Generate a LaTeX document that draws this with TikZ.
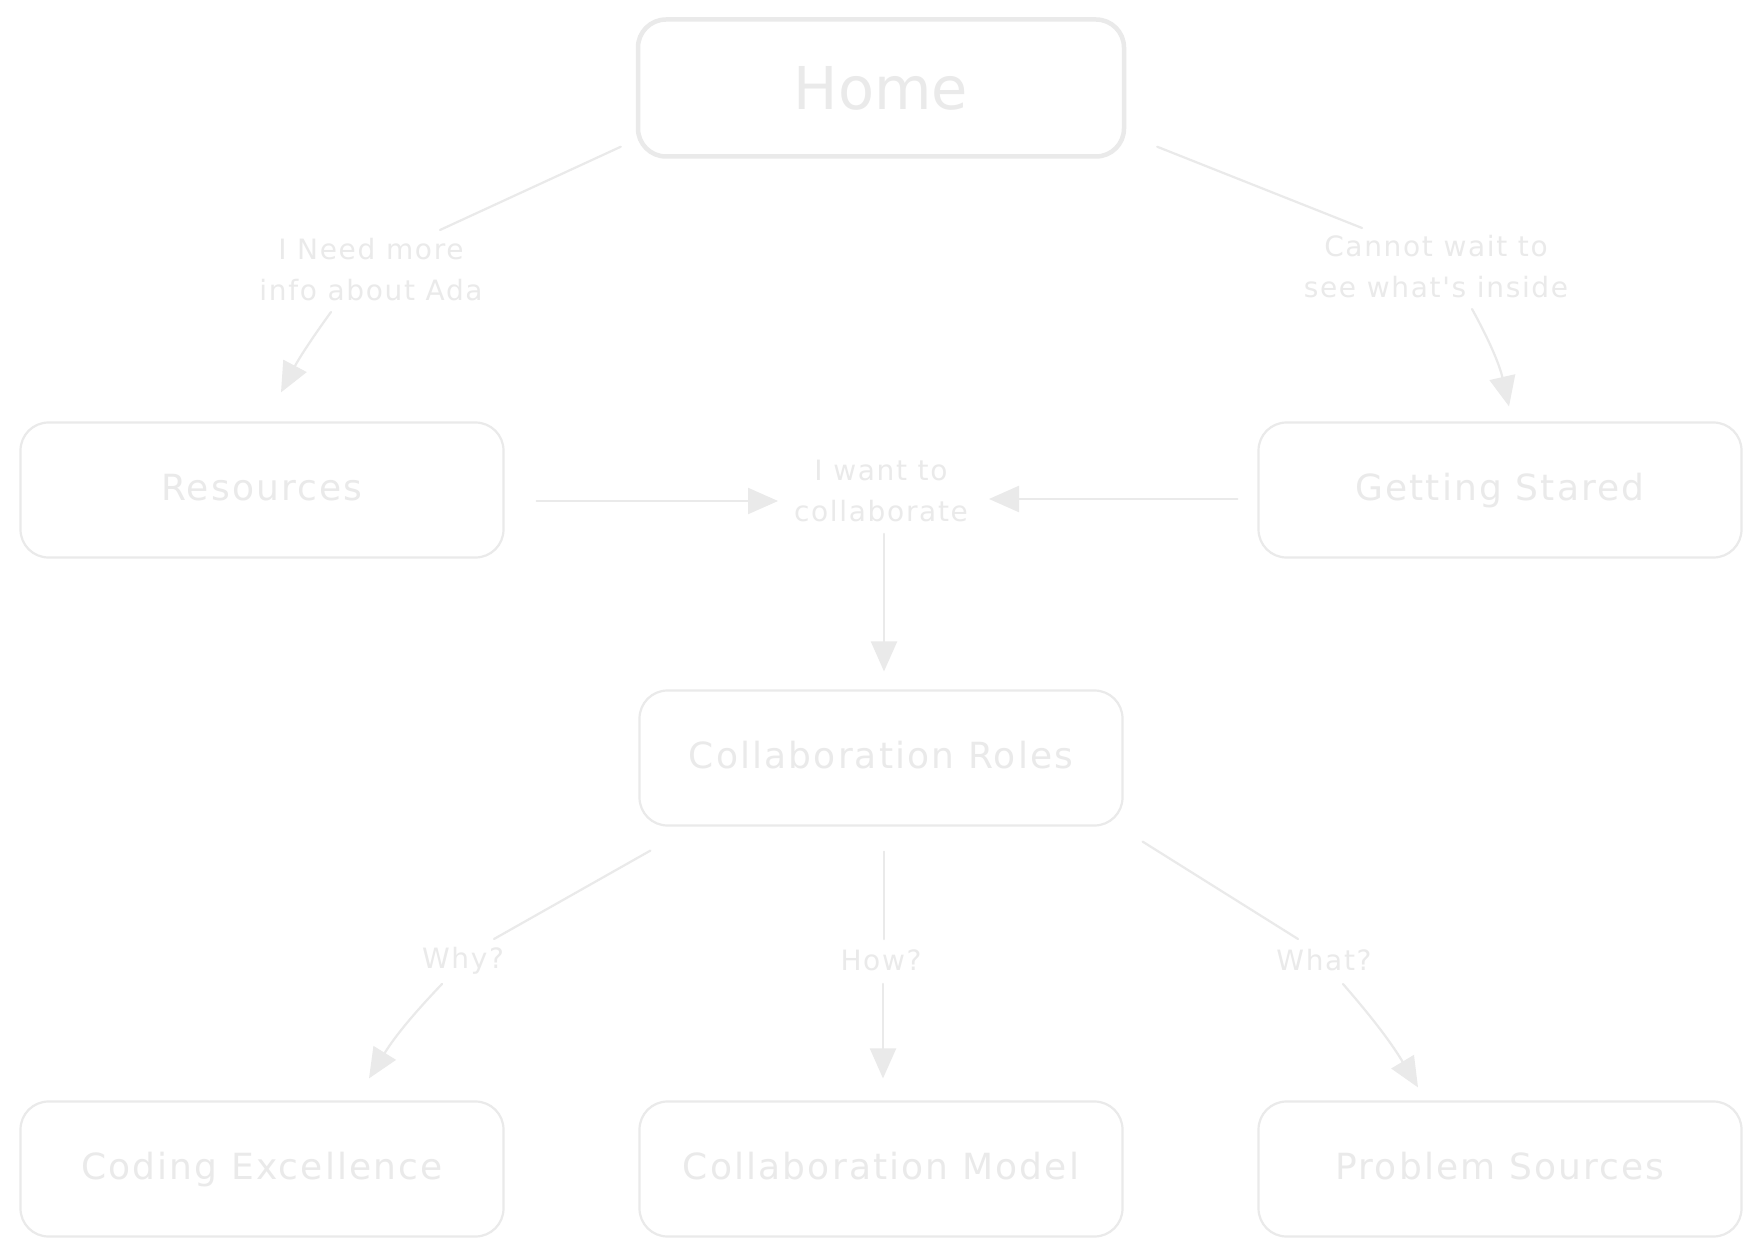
\documentclass[tikz,border=0pt]{standalone}
\usepackage{fontspec}
\setmainfont{DejaVu Sans}
\usetikzlibrary{arrows.meta,calc}
\definecolor{sk}{RGB}{234,234,234}
\newfontfamily\boxfont[LetterSpace=6]{DejaVu Sans}
\newfontfamily\edgefont[LetterSpace=6]{DejaVu Sans}
\begin{document}
\begin{tikzpicture}[x=1pt,y=-1pt,
  pagebox/.style={draw=sk,line width=2.2pt,rounded corners=28pt,minimum width=483pt,minimum height=135pt,inner sep=0pt,text=sk,text height=27pt,text depth=7pt,font=\boxfont\fontsize{36}{40}\selectfont},
  homebox/.style={pagebox,line width=4.5pt,minimum width=486pt,minimum height=137pt,text height=44pt,text depth=1pt,font=\fontsize{59}{62}\selectfont},
  elabel/.style={text=sk,align=center,inner sep=0pt,font=\edgefont\fontsize{28}{41}\selectfont},
  conn/.style={draw=sk,line width=2.2pt,line cap=round},
  arr/.style={conn,-{Triangle[length=30pt,width=26pt]}}]
\useasboundingbox (0,0) rectangle (1762,1257);
\fill[white] (0,0) rectangle (1762,1257);
% boxes
\node[homebox] (home) at (881,88) {Home};
\node[pagebox] (res) at (262,490) {Resources};
\node[pagebox] (gs) at (1500,490) {Getting Stared};
\node[pagebox] (roles) at (881,758) {Collaboration Roles};
\node[pagebox] (code) at (262,1169) {Coding Excellence};
\node[pagebox] (model) at (881,1169) {Collaboration Model};
\node[pagebox] (prob) at (1500,1169) {Problem Sources};
% labels
\node[elabel] (lres) at (371,270) {I Need more\\info about Ada};
\node[elabel] (lgs) at (1436,267) {Cannot wait to\\see what's inside};
\node[elabel] (lcol) at (881,491) {I want to\\collaborate};
\node[elabel] (lwhy) at (463,961) {Why?};
\node[elabel] (lhow) at (881,960) {How?};
\node[elabel] (lwhat) at (1324,960) {What?};
% connectors
\draw[conn] ($(home.south west)+(-15,-12)$) -- ($(lres.center)+(69,-40)$);
\draw[arr] ($(lres.center)+(-40,42)$) to[bend right=4] ($(res.north)+(19,-29)$);
\draw[conn] ($(home.south east)+(31,-12)$) -- ($(lgs.center)+(-74,-39)$);
\draw[arr] ($(lgs.center)+(36,42)$) to[bend left=8] ($(gs.north)+(9,-15)$);
\draw[arr] ($(res.east)+(32,11)$) -- ($(lcol.center)+(-103,10)$);
\draw[arr] ($(gs.west)+(-20,9)$) -- ($(lcol.center)+(108,8)$);
\draw[arr] ($(lcol.center)+(3,43)$) -- ($(roles.north)+(3,-18)$);
\draw[conn] ($(roles.south west)+(12,24)$) -- ($(lwhy.center)+(31,-22)$);
\draw[arr] ($(lwhy.center)+(-21,23)$) to[bend right=6] ($(code.north)+(107,-22)$);
\draw[conn] ($(roles.south)+(3,25)$) -- ($(lhow.center)+(3,-21)$);
\draw[arr] ($(lhow.center)+(2,24)$) -- ($(model.north)+(2,-22)$);
\draw[conn] ($(roles.south east)+(19,15)$) -- ($(lwhat.center)+(-26,-21)$);
\draw[arr] ($(lwhat.center)+(19,24)$) to[bend left=5] ($(prob.north)+(-82,-13)$);
\end{tikzpicture}
\end{document}
